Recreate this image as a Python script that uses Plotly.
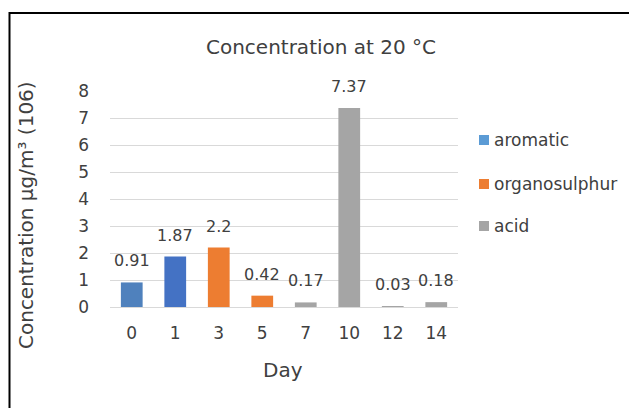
import plotly.graph_objects as go

days = ["0", "1", "3", "5", "7", "10", "12", "14"]

aromatic_days = ["0", "1"]
aromatic_vals = [0.91, 1.87]
organo_days = ["3", "5"]
organo_vals = [2.2, 0.42]
acid_days = ["7", "10", "12", "14"]
acid_vals = [0.17, 7.37, 0.03, 0.18]

y_ticks = [0, 1, 2, 3, 4, 5, 6, 7, 8]

legend_names = ["aromatic", "organosulphur", "acid"]
legend_colors = ["#5b9bd5", "#ed7d31", "#a5a5a5"]

FONT = "DejaVu Sans"
TXT = "#404040"

L, R, T, B = 110, 458, 91, 307  # plot area in pixels
PW, PH = R - L, B - T


def px(x):
    return (x - L) / PW


def py(y):
    return (B - y) / PH


fig = go.Figure()
fig.add_trace(go.Bar(x=aromatic_days, y=aromatic_vals, name="aromatic",
                     marker=dict(color=["#4f81bd", "#4472c4"], line=dict(width=0)), width=0.5))
fig.add_trace(go.Bar(x=organo_days, y=organo_vals, name="organosulphur",
                     marker=dict(color="#ed7d31", line=dict(width=0)), width=0.5))
fig.add_trace(go.Bar(x=acid_days, y=acid_vals, name="acid",
                     marker=dict(color="#a5a5a5", line=dict(width=0)), width=0.5))

annots = []
for xs, ys in [(aromatic_days, aromatic_vals), (organo_days, organo_vals), (acid_days, acid_vals)]:
    for x, y in zip(xs, ys):
        annots.append(dict(x=days.index(x), y=y, xref="x", yref="y", text=f"{y:g}", showarrow=False,
                           yanchor="bottom", yshift=10, font=dict(family=FONT, size=16, color=TXT)))

# axis titles
annots.append(dict(x=px(26), y=py(215), xref="paper", yref="paper",
                   text="Concentration µg/m³ (106)", textangle=-90, showarrow=False,
                   xanchor="center", yanchor="middle", font=dict(family=FONT, size=20, color=TXT)))
annots.append(dict(x=px(283), y=py(370), xref="paper", yref="paper",
                   text="Day", showarrow=False, xanchor="center", yanchor="middle",
                   font=dict(family=FONT, size=20, color=TXT)))

# legend (manual)
shapes = []
legend_y = [140, 184, 226]
for name, col, ly in zip(legend_names, legend_colors, legend_y):
    shapes.append(dict(type="rect", xref="paper", yref="paper",
                       x0=px(479), x1=px(489), y0=py(ly + 5), y1=py(ly - 5),
                       line=dict(width=0), fillcolor=col))
    annots.append(dict(x=px(492), y=py(ly), xref="paper", yref="paper", text=name,
                       showarrow=False, xanchor="left", yanchor="middle",
                       font=dict(family=FONT, size=17, color=TXT)))

# outer chart border
shapes.append(dict(type="rect", xref="paper", yref="paper",
                   x0=px(9.5), x1=px(660), y0=py(440), y1=py(13),
                   line=dict(color="black", width=2), fillcolor="rgba(0,0,0,0)", layer="below"))

fig.update_layout(
    width=629, height=408,
    margin=dict(l=L, r=629 - R, t=T, b=408 - B),
    paper_bgcolor="white", plot_bgcolor="white",
    barmode="overlay",
    showlegend=False,
    title=dict(text="Concentration at 20 °C", x=px(321), xref="paper",
               y=1 - 47 / 408, yref="container", xanchor="center", yanchor="middle",
               font=dict(family=FONT, size=20, color=TXT)),
    xaxis=dict(type="category", categoryorder="array", categoryarray=days,
               range=[-0.5, 7.5], tickangle=0,
               showgrid=False, showline=False, ticks="", zeroline=False,
               tickfont=dict(family=FONT, size=17, color=TXT), ticklabelstandoff=14,
               fixedrange=True),
    yaxis=dict(range=[0, 8], tickvals=y_ticks, showgrid=True, gridcolor="#d9d9d9", gridwidth=1,
               zeroline=True, zerolinecolor="#d9d9d9", zerolinewidth=1, showline=False, ticks="",
               tickfont=dict(family=FONT, size=17, color=TXT), ticklabelstandoff=20,
               fixedrange=True),
    annotations=annots,
    shapes=shapes,
)

fig.write_html("out.html")
